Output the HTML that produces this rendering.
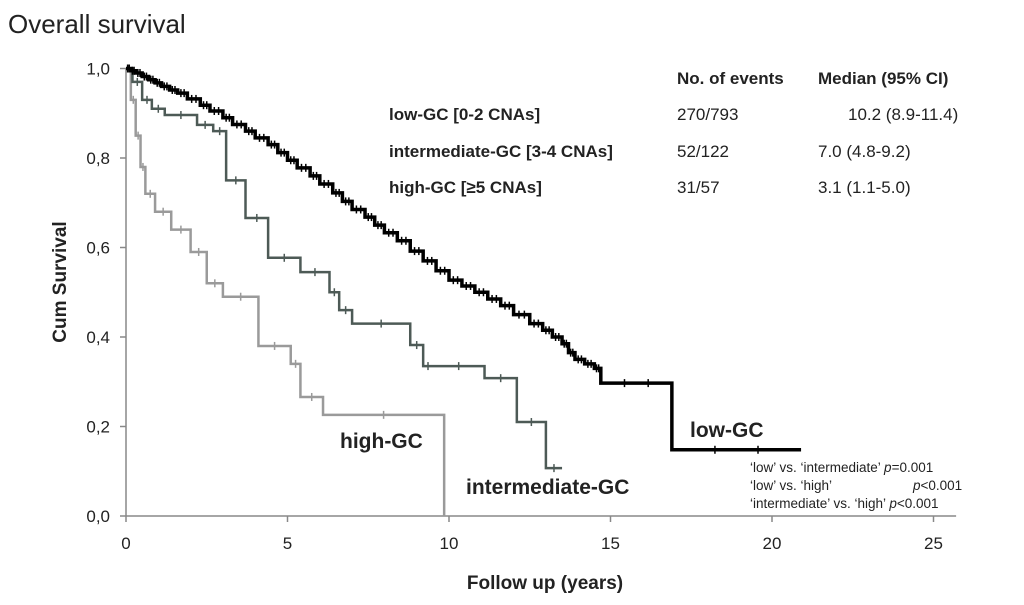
<!DOCTYPE html>
<html><head><meta charset="utf-8"><style>
body{margin:0;background:#fff;width:1024px;height:600px;overflow:hidden}
svg text{font-family:"Liberation Sans",sans-serif}
</style></head><body>
<svg id="c" width="1024" height="600">
<text x="8" y="33" font-size="26" fill="#222">Overall survival</text>
</svg>
<script>
const xTicks=[0,5,10,15,20,25];
const yTicks=[0,0.2,0.4,0.6,0.8,1.0];
const yTickLabels=["0,0","0,2","0,4","0,6","0,8","1,0"];
const lowTime=[0,0.15,0.3,0.5,0.7,0.9,1.1,1.35,1.6,1.9,2.3,2.6,3,3.3,3.7,4,4.4,4.7,5,5.3,5.7,6,6.4,6.7,7,7.4,7.7,8,8.4,8.8,9.2,9.6,10,10.4,10.8,11.2,11.6,12,12.5,12.9,13.2,13.5,13.7,13.9,14.2,14.5,14.7,16.9,20.9];
const lowSurv=[1,0.995,0.99,0.982,0.975,0.968,0.96,0.952,0.945,0.932,0.918,0.905,0.89,0.875,0.86,0.845,0.83,0.812,0.795,0.778,0.76,0.742,0.722,0.703,0.685,0.668,0.65,0.633,0.615,0.592,0.57,0.548,0.527,0.514,0.5,0.485,0.47,0.45,0.43,0.415,0.4,0.385,0.365,0.35,0.34,0.33,0.297,0.148,0.148];
const midTime=[0,0.2,0.5,0.8,1.2,2.2,2.7,3.1,3.7,4.4,5.4,6.3,6.6,7.0,8.8,9.2,9.5,11.1,12.1,13.0,13.5];
const midSurv=[1,0.97,0.93,0.91,0.896,0.874,0.86,0.75,0.666,0.577,0.545,0.5,0.46,0.43,0.382,0.335,0.335,0.308,0.21,0.107,0.107];
const highTime=[0,0.15,0.3,0.45,0.6,0.9,1.4,2,2.5,3,4.1,5.1,5.4,6.1,9.85];
const highSurv=[1,0.93,0.85,0.78,0.72,0.68,0.64,0.59,0.52,0.49,0.38,0.34,0.266,0.226,0];
const svg=document.getElementById('c');
const NS='http://www.w3.org/2000/svg';
const X=t=>126+t*32.3, Y=s=>516-s*447.5;
function mk(tag,attrs,parent){const e=document.createElementNS(NS,tag);for(const k in attrs)e.setAttribute(k,attrs[k]);(parent||svg).appendChild(e);return e;}
let ax=mk('line',{x1:X(0),y1:Y(0),x2:X(25.7),y2:Y(0),stroke:'#888','stroke-width':1.5});


let ay=mk('line',{x1:X(0),y1:Y(0),x2:X(0),y2:Y(1.0),stroke:'#888','stroke-width':1.5});


xTicks.forEach(t=>{mk('line',{x1:X(t),y1:Y(0),x2:X(t),y2:Y(0)+6,stroke:'#888','stroke-width':1.5});
 const l=mk('text',{x:X(t),y:549,'font-size':17,'text-anchor':'middle',fill:'#222'});l.textContent=t;
 
 });
yTicks.forEach((v,i)=>{mk('line',{x1:X(0)-6,y1:Y(v),x2:X(0),y2:Y(v),stroke:'#888','stroke-width':1.5});
 const l=mk('text',{x:110,y:Y(v)+6,'font-size':17,'text-anchor':'end',fill:'#222'});l.textContent=yTickLabels[i];
 
 });
function curve(T,S,color,w,name,n){let d='M'+X(T[0])+','+Y(S[0]);
 for(let i=1;i<T.length;i++){d+=' H'+X(T[i])+' V'+Y(S[i]);}
 const p=mk('path',{d:d,fill:'none',stroke:color,'stroke-width':w});
 
 
 for(let i=0;i<T.length-1;i++){for(let k=1;k<=n;k++){const xm=X(T[i])+(X(T[i+1])-X(T[i]))*k/(n+1);mk('line',{x1:xm,y1:Y(S[i])-4,x2:xm,y2:Y(S[i])+4,stroke:color,'stroke-width':1.5});}}}
curve(highTime,highSurv,'#9a9a9a',2.5,'high-gc-curve',1);
curve(midTime,midSurv,'#4d5a56',2.5,'intermediate-gc-curve',1);
curve(lowTime,lowSurv,'#000',3.5,'low-gc-curve',2);
</script>
<svg width="1024" height="600" style="position:absolute;left:0;top:0">
<text transform="translate(66,282) rotate(-90)" font-size="19" font-weight="bold" text-anchor="middle" fill="#222">Cum Survival</text>
<text x="545" y="589" font-size="19" font-weight="bold" text-anchor="middle" fill="#222">Follow up (years)</text>
<g font-size="17" fill="#222" font-weight="bold">
<text x="677" y="84">No. of events</text>
<text x="818" y="84">Median (95% CI)</text>
<text x="389" y="120">low-GC [0-2 CNAs]</text>
<text x="389" y="157">intermediate-GC [3-4 CNAs]</text>
<text x="389" y="193">high-GC [≥5 CNAs]</text>
</g>
<g font-size="17" fill="#222">
<text x="677" y="120">270/793</text><text x="848" y="120">10.2 (8.9-11.4)</text>
<text x="677" y="157">52/122</text><text x="818" y="157">7.0  (4.8-9.2)</text>
<text x="677" y="193">31/57</text><text x="818" y="193">3.1  (1.1-5.0)</text>
</g>
<g font-size="21" font-weight="bold" fill="#222">
<text x="690" y="437">low-GC</text>
<text x="340" y="448">high-GC</text>
<text x="466" y="494">intermediate-GC</text>
</g>
<g font-size="13.5" fill="#222">
<text x="750" y="472">‘low’ vs. ‘intermediate’  <tspan font-style="italic">p</tspan>=0.001</text>
<text x="750" y="490">‘low’ vs.  ‘high’</text><text x="913" y="490"><tspan font-style="italic">p</tspan>&lt;0.001</text>
<text x="750" y="508">‘intermediate’ vs. ‘high’ <tspan font-style="italic">p</tspan>&lt;0.001</text>
</g>
</svg>
</body></html>
